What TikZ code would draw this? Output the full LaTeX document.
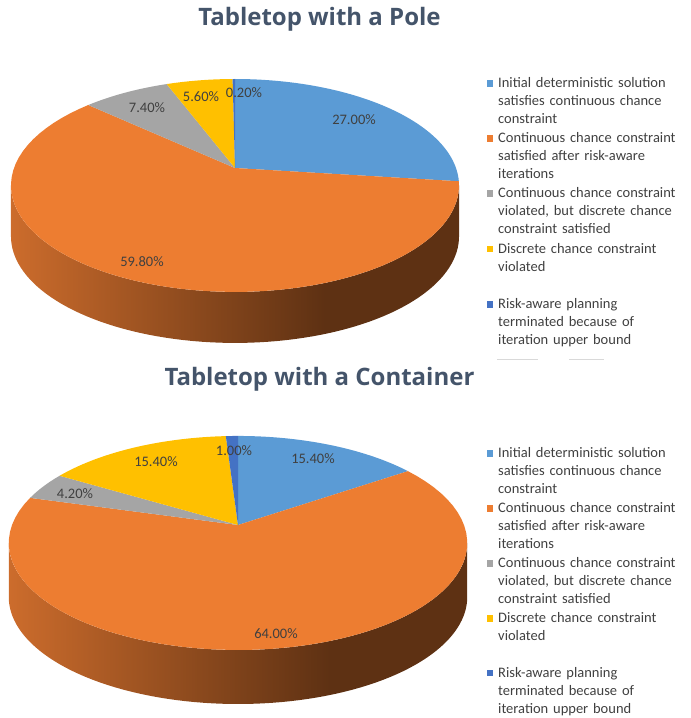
\documentclass[tikz,border=0pt]{standalone}
\usepackage{fontspec}
\setmainfont{Carlito}
\newfontfamily\headfont{Open Sans}
\definecolor{sliceblue}{HTML}{5B9BD5}
\definecolor{sliceorange}{HTML}{ED7D31}
\definecolor{slicegray}{HTML}{A5A5A5}
\definecolor{sliceyellow}{HTML}{FFC000}
\definecolor{slicenavy}{HTML}{4472C4}
\definecolor{sidelight}{HTML}{CC6C2C}
\definecolor{sidedark}{HTML}{5E3113}
\definecolor{headgray}{HTML}{44546A}
\definecolor{textgray}{HTML}{404040}
\definecolor{rulegray}{HTML}{D9D9D9}
\pgfdeclarehorizontalshading{pieside}{100bp}{color(0bp)=(sidelight); color(25bp)=(sidelight); color(60bp)=(sidedark); color(100bp)=(sidedark)}
\newcommand{\piex}[1]{\pcx+\pa*sin(#1)/(1+\pk*cos(#1))}
\newcommand{\piey}[1]{\pcy-\pb*cos(#1)/(1+\pk*cos(#1))}
\newcommand{\pieslice}[3]{\fill[#3] (\pcx, \pcy) -- plot[domain=#1:#2, samples=60, variable=\t] ({\piex{\t}}, {\piey{\t}}) -- cycle;}
\newcommand{\piewall}{%
  \pgfmathsetmacro{\pe}{acos(-\pk)}\pgfmathsetmacro{\pf}{360-\pe}%
  \shade[shading=pieside] plot[domain=\pe:\pf, samples=80, variable=\t] ({\piex{\t}}, {\piey{\t}})
    -- plot[domain=\pf:\pe, samples=80, variable=\t] ({\piex{\t}}, {\piey{\t}+\pd}) -- cycle;}

\begin{document}
\begin{tikzpicture}
                \tikzset{x=1pt, y=-1pt}
                \tikzstyle{charttitle}=[anchor=base, inner sep=0, text=headgray, font=\headfont\bfseries\fontsize{24}{29}\selectfont]
                \tikzstyle{pct}=[inner sep=0, text=textgray, font=\fontsize{14.5}{18}\selectfont]
                \tikzstyle{entry}=[anchor=base west, inner sep=0, text width=190pt, align=left, text=textgray, font=\fontsize{14.5}{18}\selectfont]
                \tikzstyle{swatch}=[rectangle, inner sep=0, minimum size=6.5pt]

                \useasboundingbox (0, 0) rectangle (691, 718);

                \draw (319.5, 25.0)   node[charttitle] (polehead)  {Tabletop with a Pole};
                \draw (319.5, 385.0)  node[charttitle] (conthead)  {Tabletop with a Container};

                \def\pcx{235}\def\pcy{168}\def\pa{221}\def\pb{103.6}\def\pk{0.164}\def\pd{51}
                \piewall
                \pieslice{0}{97.2}{sliceblue}
                \pieslice{97.2}{312.48}{sliceorange}
                \pieslice{312.48}{339.12}{slicegray}
                \pieslice{339.12}{359.28}{sliceyellow}
                \pieslice{359.28}{360}{slicenavy}

                \draw (354, 120)    node[pct]   (p1blue)   {27.00\%};
                \draw (142, 262)    node[pct]   (p1orange) {59.80\%};
                \draw (147, 108)    node[pct]   (p1gray)   {7.40\%};
                \draw (201, 97)     node[pct]   (p1yellow) {5.60\%};
                \draw (244, 93)     node[pct]   (p1navy)   {0.20\%};

                \def\pcx{238}\def\pcy{525}\def\pa{226}\def\pb{104}\def\pk{0.168}\def\pd{54}
                \piewall
                \pieslice{0}{55.44}{sliceblue}
                \pieslice{55.44}{285.84}{sliceorange}
                \pieslice{285.84}{300.96}{slicegray}
                \pieslice{300.96}{356.4}{sliceyellow}
                \pieslice{356.4}{360}{slicenavy}

                \draw (313, 459)    node[pct]   (p2blue)   {15.40\%};
                \draw (276, 634)    node[pct]   (p2orange) {64.00\%};
                \draw (75, 494)     node[pct]   (p2gray)   {4.20\%};
                \draw (156, 462)    node[pct]   (p2yellow) {15.40\%};
                \draw (234, 451)    node[pct]   (p2navy)   {1.00\%};

                \draw (490, 83.7)   node[swatch, fill=sliceblue]   (k1blue)   {};
                \draw (490, 138.7)  node[swatch, fill=sliceorange] (k1orange) {};
                \draw (490, 193.7)  node[swatch, fill=slicegray]   (k1gray)   {};
                \draw (490, 249.2)  node[swatch, fill=sliceyellow] (k1yellow) {};
                \draw (490, 304.5)  node[swatch, fill=slicenavy]   (k1navy)   {};

                \draw (498, 87.5)   node[entry]  (e1blue)   {Initial deterministic solution\\satisfies continuous chance\\constraint};
                \draw (498, 142.7)  node[entry]  (e1orange) {Continuous chance constraint\\satisfied after risk-aware\\iterations};
                \draw (498, 197.9)  node[entry]  (e1gray)   {Continuous chance constraint\\violated, but discrete chance\\constraint satisfied};
                \draw (498, 253.4)  node[entry]  (e1yellow) {Discrete chance constraint\\violated};
                \draw (498, 308.7)  node[entry]  (e1navy)   {Risk-aware planning\\terminated because of\\iteration upper bound};

                \coordinate (r1a) at (497, 359);
                \coordinate (r1b) at (538, 359);
                \coordinate (r2a) at (569, 359);
                \coordinate (r2b) at (604, 359);
                \draw [rulegray, line width=0.8pt] (r1a) -- (r1b);
                \draw [rulegray, line width=0.8pt] (r2a) -- (r2b);

                \draw (490, 453.5)  node[swatch, fill=sliceblue]   (k2blue)   {};
                \draw (490, 508.5)  node[swatch, fill=sliceorange] (k2orange) {};
                \draw (490, 563.5)  node[swatch, fill=slicegray]   (k2gray)   {};
                \draw (490, 618.5)  node[swatch, fill=sliceyellow] (k2yellow) {};
                \draw (490, 673.0)  node[swatch, fill=slicenavy]   (k2navy)   {};

                \draw (498, 457.7)  node[entry]  (e2blue)   {Initial deterministic solution\\satisfies continuous chance\\constraint};
                \draw (498, 512.7)  node[entry]  (e2orange) {Continuous chance constraint\\satisfied after risk-aware\\iterations};
                \draw (498, 567.7)  node[entry]  (e2gray)   {Continuous chance constraint\\violated, but discrete chance\\constraint satisfied};
                \draw (498, 622.7)  node[entry]  (e2yellow) {Discrete chance constraint\\violated};
                \draw (498, 677.2)  node[entry]  (e2navy)   {Risk-aware planning\\terminated because of\\iteration upper bound};
            \end{tikzpicture}
\end{document}
